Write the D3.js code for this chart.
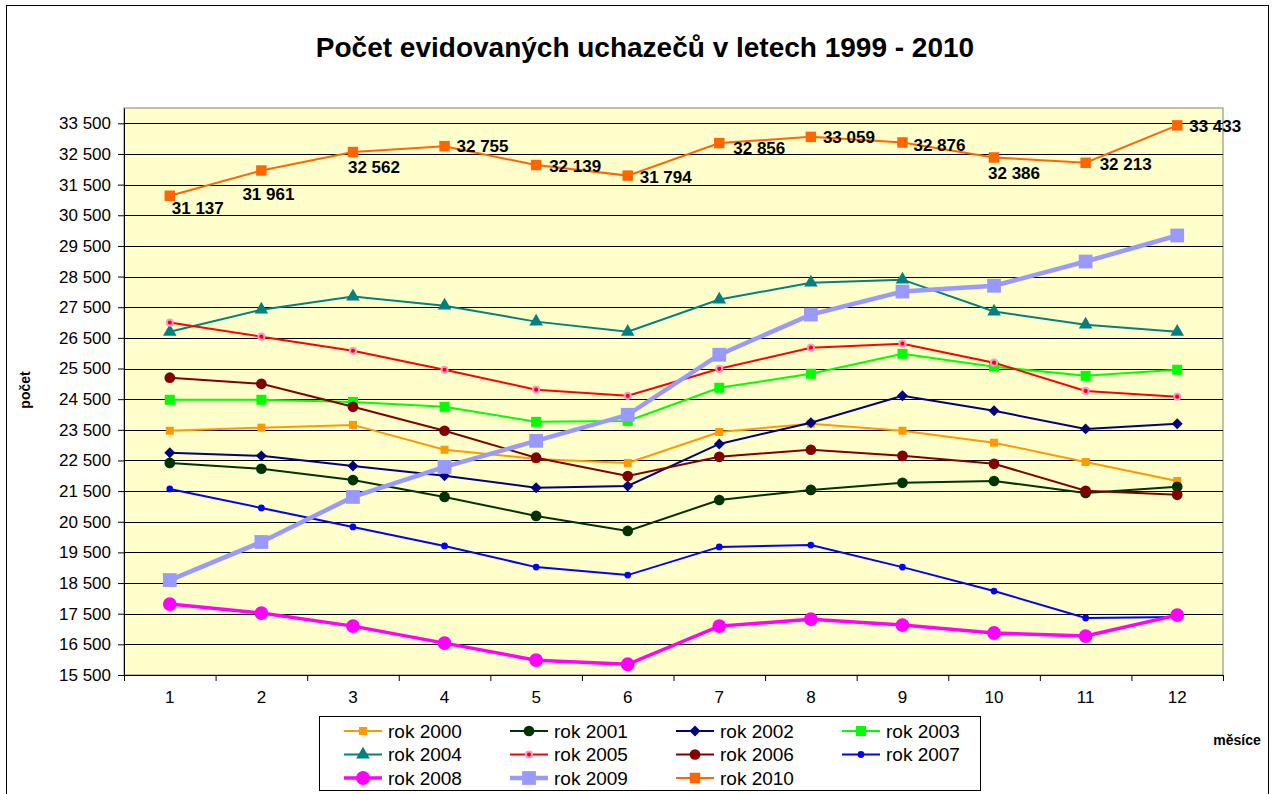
<!DOCTYPE html>
<html>
<head>
<meta charset="utf-8">
<script src="https://cdn.jsdelivr.net/npm/d3@7"></script>
<style>
  body { margin: 0; background: #fff; }
  svg { font-family: Arial, "Liberation Sans", sans-serif; }
</style>
</head>
<body>
<div id="chart"></div>
<script>
// months on x axis
const months = [1, 2, 3, 4, 5, 6, 7, 8, 9, 10, 11, 12];
const yTicks = [15500, 16500, 17500, 18500, 19500, 20500, 21500, 22500, 23500, 24500,
    25500, 26500, 27500, 28500, 29500, 30500, 31500, 32500, 33500];

// values
const rok2000 = [23470, 23570, 23660, 22850, 22550, 22420, 23430, 23700, 23470, 23080, 22450, 21830];
const rok2001 = [22420, 22230, 21860, 21310, 20690, 20200, 21210, 21540, 21770, 21830, 21440, 21640];
const rok2002 = [22750, 22650, 22320, 22000, 21610, 21670, 23040, 23730, 24610, 24120, 23530, 23700];
const rok2003 = [24480, 24480, 24410, 24250, 23760, 23790, 24870, 25330, 25980, 25560, 25260, 25460];
const rok2004 = [26700, 27420, 27850, 27550, 27030, 26700, 27750, 28300, 28400, 27360, 26930, 26700];
const rok2005 = [27000, 26540, 26080, 25460, 24810, 24610, 25490, 26180, 26310, 25690, 24770, 24580];
const rok2006 = [25200, 25000, 24250, 23470, 22590, 21990, 22620, 22850, 22650, 22390, 21510, 21380];
const rok2007 = [21570, 20950, 20330, 19710, 19020, 18760, 19680, 19740, 19020, 18240, 17360, 17390];
const rok2008 = [17814, 17520, 17095, 16540, 15984, 15850, 17095, 17320, 17130, 16870, 16770, 17455];
const rok2009 = [18598, 19840, 21310, 22290, 23140, 23990, 25950, 27260, 28010, 28200, 28990, 29840];
const rok2010 = [31137, 31961, 32562, 32755, 32139, 31794, 32856, 33059, 32876, 32386, 32213, 33433];

const series = [
    { name: "rok 2000", values: rok2000, color: "#FF9900", width: 2, symbol: d3.symbolSquare, size: 64 },
    { name: "rok 2001", values: rok2001, color: "#003300", width: 2, symbol: d3.symbolCircle, size: 90 },
    { name: "rok 2002", values: rok2002, color: "#000080", width: 2, symbol: d3.symbolSquare, size: 60, rotate: 45 },
    { name: "rok 2003", values: rok2003, color: "#00FF00", width: 2, symbol: d3.symbolSquare, size: 100 },
    { name: "rok 2004", values: rok2004, color: "#008080", width: 2, symbol: d3.symbolTriangle, size: 80 },
    { name: "rok 2005", values: rok2005, color: "#FF0000", width: 2, symbol: d3.symbolCircle, size: 30, ring: "#FF99CC" },
    { name: "rok 2006", values: rok2006, color: "#800000", width: 2, symbol: d3.symbolCircle, size: 90 },
    { name: "rok 2007", values: rok2007, color: "#0000FF", width: 2, symbol: d3.symbolCircle, size: 36 },
    { name: "rok 2008", values: rok2008, color: "#FF00FF", width: 3.5, symbol: d3.symbolCircle, size: 150 },
    { name: "rok 2009", values: rok2009, color: "#9999FF", width: 4.5, symbol: d3.symbolSquare, size: 190 },
    { name: "rok 2010", values: rok2010, color: "#FF6600", width: 2, symbol: d3.symbolSquare, size: 110 }
];

// where each 2010 label sits relative to its point
const labelPlace = [
    [28, 12, "middle"], [7, 24, "middle"], [21, 15, "middle"], [12, 0, "start"],
    [13, 1, "start"], [12, 1, "start"], [14, 5, "start"], [12, 0, "start"],
    [11, 3, "start"], [20, 16, "middle"], [14, 1, "start"], [12, 1, "start"]
];

const W = 1273, H = 794;
const margin = { top: 108, right: 50, bottom: 119, left: 124 };

const svg = d3.select("#chart").append("svg")
    .attr("width", W).attr("height", H);

// chart frame
svg.append("rect")
    .attr("x", 6.5).attr("y", 5.5).attr("width", 1262).attr("height", 800)
    .attr("fill", "#fff").attr("stroke", "#000");

const x = d3.scaleBand().domain(months).range([margin.left, W - margin.right]);
const y = d3.scaleLinear().domain([15500, 34000]).range([H - margin.bottom, margin.top]);
const cx = d => x(d) + x.bandwidth() / 2;

// plot area
svg.append("rect")
    .attr("x", margin.left).attr("y", margin.top)
    .attr("width", W - margin.right - margin.left)
    .attr("height", H - margin.bottom - margin.top)
    .attr("fill", "#FFFFCC").attr("stroke", "#808080");

// gridlines
svg.append("g").selectAll("line")
    .data(yTicks).enter().append("line")
    .attr("x1", margin.left).attr("x2", W - margin.right)
    .attr("y1", d => Math.round(y(d)) + 0.5).attr("y2", d => Math.round(y(d)) + 0.5)
    .attr("stroke", "#000");

// y axis
const fmt = d => d3.format(",")(d).replace(",", " ");
const yAxis = svg.append("g")
    .attr("transform", "translate(" + margin.left + ",0)")
    .call(d3.axisLeft(y).tickValues(yTicks).tickFormat(fmt).tickSize(6).tickSizeOuter(0).tickPadding(7));
yAxis.select(".domain").attr("stroke", "#000");
yAxis.selectAll("text").attr("font-size", 17).attr("font-family", "Arial, 'Liberation Sans', sans-serif").attr("fill", "#000");

// x axis (ticks between categories)
const xAxis = svg.append("g")
    .attr("transform", "translate(0," + (H - margin.bottom) + ")")
    .call(d3.axisBottom(x).tickSize(0).tickPadding(16));
xAxis.select(".domain").attr("stroke", "#000");
xAxis.selectAll("text").attr("font-size", 17).attr("font-family", "Arial, 'Liberation Sans', sans-serif").attr("fill", "#000");
xAxis.selectAll(".sep")
    .data(months.concat([null])).enter().append("line")
    .attr("x1", (d, i) => margin.left + i * x.step() + 0.5)
    .attr("x2", (d, i) => margin.left + i * x.step() + 0.5)
    .attr("y1", 0).attr("y2", 6).attr("stroke", "#000");

// lines + markers
const line = d3.line().x((d, i) => cx(months[i])).y(d => y(d));

series.forEach(s => {
    svg.append("path")
        .attr("d", line(s.values))
        .attr("fill", "none")
        .attr("stroke", s.color)
        .attr("stroke-width", s.width);

    svg.append("g").selectAll("path")
        .data(s.values).enter().append("path")
        .attr("transform", (d, i) => "translate(" + cx(months[i]) + "," + y(d) + ") rotate(" + (s.rotate || 0) + ")")
        .attr("d", d3.symbol().type(s.symbol).size(s.size))
        .attr("fill", s.color)
        .attr("stroke", s.ring || "none")
        .attr("stroke-width", s.ring ? 2 : 0);
});

// 2010 data labels
svg.append("g").selectAll("text")
    .data(rok2010).enter().append("text")
    .attr("x", (d, i) => cx(months[i]) + labelPlace[i][0])
    .attr("y", (d, i) => y(d) + labelPlace[i][1])
    .attr("dy", "0.35em")
    .attr("text-anchor", (d, i) => labelPlace[i][2])
    .attr("font-size", 17).attr("font-weight", "bold")
    .text(fmt);

// title and axis titles
svg.append("text")
    .attr("x", 645).attr("y", 57)
    .attr("text-anchor", "middle")
    .attr("font-size", 28).attr("font-weight", "bold")
    .text("Počet evidovaných uchazečů v letech 1999 - 2010");

svg.append("text")
    .attr("transform", "translate(30,390) rotate(-90)")
    .attr("text-anchor", "middle")
    .attr("font-size", 14).attr("font-weight", "bold")
    .text("počet");

svg.append("text")
    .attr("x", 1237).attr("y", 745)
    .attr("text-anchor", "middle")
    .attr("font-size", 14).attr("font-weight", "bold")
    .text("měsíce");

// legend
const legend = svg.append("g");
legend.append("rect")
    .attr("x", 319.5).attr("y", 716.5).attr("width", 661).attr("height", 74)
    .attr("fill", "#fff").attr("stroke", "#000");

const item = legend.selectAll(".item")
    .data(series).enter().append("g")
    .attr("transform", (d, i) => "translate(" + (344 + (i % 4) * 166) + "," + (731 + Math.floor(i / 4) * 23.5) + ")");

item.append("line")
    .attr("x1", 0).attr("x2", 38)
    .attr("stroke", d => d.color)
    .attr("stroke-width", d => d.width);

item.append("path")
    .attr("transform", d => "translate(19,0) rotate(" + (d.rotate || 0) + ")")
    .attr("d", d => d3.symbol().type(d.symbol).size(d.size)())
    .attr("fill", d => d.color)
    .attr("stroke", d => d.ring || "none")
    .attr("stroke-width", d => d.ring ? 2 : 0);

item.append("text")
    .attr("x", 44).attr("dy", "0.35em")
    .attr("font-size", 19)
    .text(d => d.name);
</script>
</body>
</html>
